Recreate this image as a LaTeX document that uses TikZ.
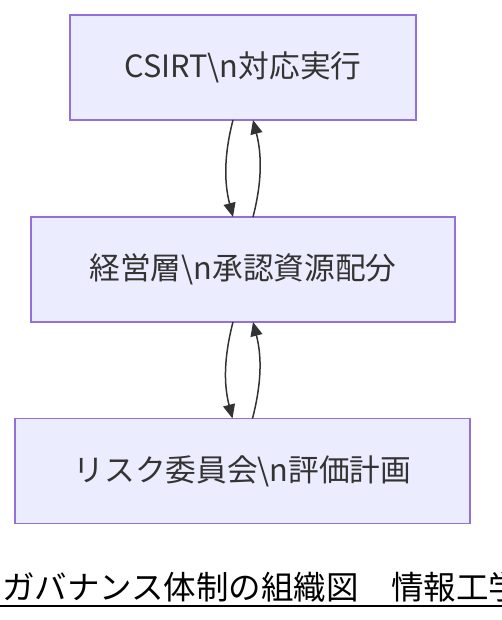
\documentclass[tikz,border=0pt]{standalone}
\usepackage{fontspec}
\setmainfont{Noto Sans CJK JP}
\usepackage{xcolor}
\usepackage{tikz}
\usetikzlibrary{arrows.meta}

\definecolor{boxFill}{HTML}{ECECFF}
\definecolor{boxLine}{HTML}{9370DB}
\definecolor{edgeGray}{HTML}{333333}

\begin{document}
\begin{tikzpicture}[x=1pt, y=-1pt, inner sep=0, outer sep=0,
        roleBox/.style={draw=boxLine, fill=boxFill, line width=1.5pt, minimum height=105pt,
                text=edgeGray, font=\fontsize{30.7}{36}\selectfont},
        flow/.style={draw=edgeGray, line width=1.5pt, -{Triangle[length=14pt,width=12pt]}}]

        \useasboundingbox (0,0) rectangle (502,620);

        \node [roleBox, minimum width=346pt] (csirt) at (243,67.5) {CSIRT\textbackslash n対応実行};
        \node [roleBox, minimum width=424pt] (board) at (243,269.5) {経営層\textbackslash n承認資源配分};
        \node [roleBox, minimum width=455pt] (risk) at (242.5,471) {リスク委員会\textbackslash n評価計画};

        \draw [flow] ([xshift=-10pt]csirt.south) .. controls +(-9,35) and +(-9,-35) .. ([xshift=-10pt]board.north);
        \draw [flow] ([xshift=10pt]board.north) .. controls +(9,-35) and +(9,35) .. ([xshift=10pt]csirt.south);
        \draw [flow] ([xshift=-10pt]board.south) .. controls +(-9,35) and +(-9,-35) .. ([xshift=-10pt]risk.north);
        \draw [flow] ([xshift=10pt]risk.north) .. controls +(9,-35) and +(9,35) .. ([xshift=10pt]board.south);

        \node [anchor=base west, font=\fontsize{32.5}{38}\selectfont] (caption) at (2,599) {ガバナンス体制の組織図　情報工学};
        \draw [line width=2pt] (0,605.5) -- (502,605.5);

\end{tikzpicture}
\end{document}
